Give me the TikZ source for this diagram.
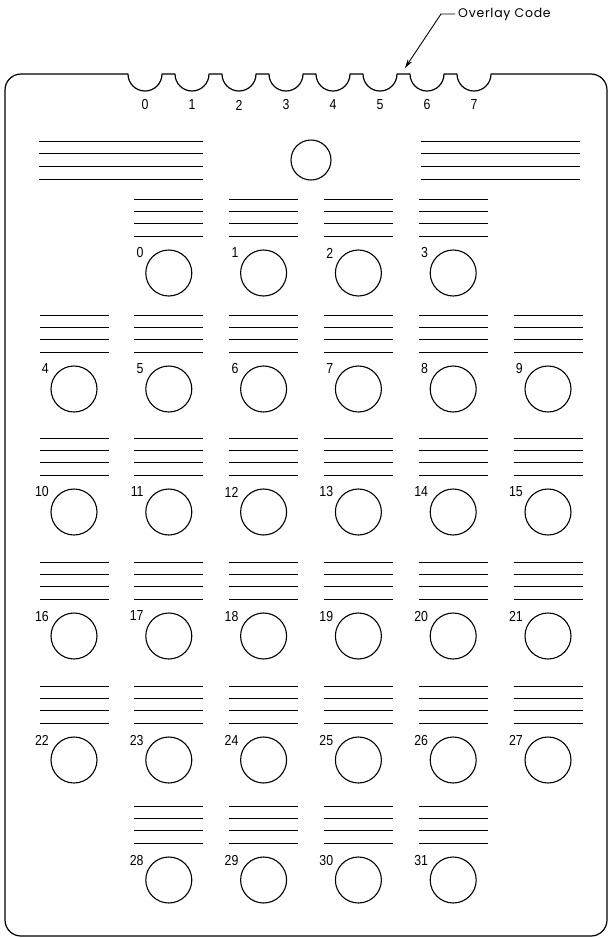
\documentclass[tikz,border=0pt]{standalone}
\usepackage{fontspec}
\setmainfont{Liberation Sans}
\newfontfamily\numfont[FakeStretch=0.85]{Liberation Sans}
\newfontfamily\notefont[LetterSpace=6]{Poppins}
\usetikzlibrary{arrows.meta}

% one button of the keyboard overlay: four rules, the hole, its number
\newcommand\holecell[3]{%
  \pgfmathsetmacro\cx{74+94.8*#1}%
  \pgfmathsetmacro\cy{{273,389,512,636,760,880}[#2]}%
  \foreach \k in {0,...,3}
    \draw[rule] (\cx-34.5,\cy-74+12.4*\k) -- (\cx+34.5,\cy-74+12.4*\k);
  \node[hole] (h#3) at (\cx,\cy) {};
  \node[num, anchor=east] (n#3) at (\cx-25,\cy-20) {#3};%
}

\begin{document}
\begin{tikzpicture}[x=1pt, y=-1pt,
    card/.style={line width=1.2pt, line join=round},
    hole/.style={draw, circle, minimum size=46pt, inner sep=0pt, line width=1.1pt},
    num/.style={font=\numfont\fontsize{14.5}{14.5}\selectfont, inner sep=0pt},
    rule/.style={line width=0.9pt}]
  \useasboundingbox (0,0) rectangle (611,938);

  % card outline with the eight code notches
  \draw[card] (5,90) arc[start angle=180, end angle=270, radius=16]
    \foreach \i in {0,...,7}{ -- ({145+47*\i-17},74) arc[start angle=180, end angle=0, radius=17] }
    -- (591,74) arc[start angle=270, end angle=360, radius=16]
    -- (607,920) arc[start angle=0, end angle=90, radius=16]
    -- (21,936) arc[start angle=90, end angle=180, radius=16] -- cycle;
  \foreach \i in {0,...,7}
    \node[num] (c\i) at ({145+47*\i},105) {\i};

  % overlay code callout
  \node[font=\notefont\fontsize{12.5}{12.5}\selectfont, anchor=west, inner sep=3pt] (overlay) at (455,14) {Overlay Code};
  \coordinate (ocTip) at (405,68);
  \draw[-{Stealth[length=9pt, width=5pt]}, line width=0.9pt] (overlay.west) -- ++(-14,0) -- (ocTip);

  % title area
  \foreach \y in {141,153.7,166.3,179}{
    \draw[rule] (39,\y) -- (203,\y);
    \draw[rule] (421,\y) -- (580,\y);
  }
  \node[hole, minimum size=40pt] (top) at (311,160) {};

  % keys 0 to 31
  \foreach \c [evaluate=\c as \n using int(\c-1)] in {1,...,4}
    {\holecell{\c}{0}{\n}}
  \foreach \r in {1,...,4}\foreach \c in {0,...,5}{
    \pgfmathtruncatemacro\n{6*\r+\c-2}
    \holecell{\c}{\r}{\n}
  }
  \foreach \c [evaluate=\c as \n using int(\c+27)] in {1,...,4}
    {\holecell{\c}{5}{\n}}
\end{tikzpicture}
\end{document}
